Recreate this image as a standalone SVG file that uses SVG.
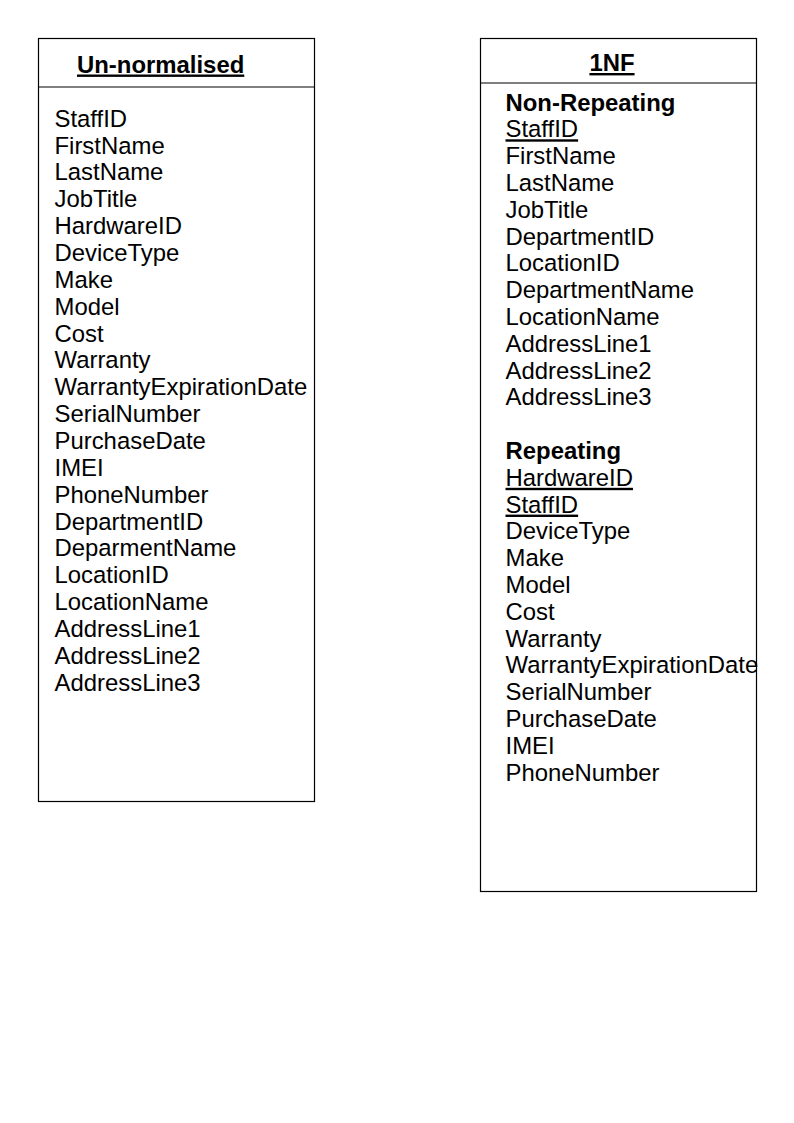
<svg xmlns="http://www.w3.org/2000/svg" width="794" height="1123" viewBox="0 0 794 1123">
<style>
.box{fill:#fff;stroke:#000;stroke-width:1.2}
.div{stroke:#000;stroke-width:1.2}
text{font-family:"Liberation Sans",Arial,sans-serif;font-size:23.9px;fill:#000}
.b{font-weight:bold}
.u{text-decoration:underline}
</style>
<rect width="794" height="1123" fill="#fff"/>
<g id="unnormalised">
<rect class="box" x="38.5" y="38.5" width="276" height="763"/>
<line class="div" x1="38.5" y1="87" x2="314.5" y2="87"/>
<text class="b u" x="77" y="72.5">Un-normalised</text>
<text x="54.5" y="126.7">
<tspan x="54.5" dy="0">StaffID</tspan>
<tspan x="54.5" dy="26.86">FirstName</tspan>
<tspan x="54.5" dy="26.86">LastName</tspan>
<tspan x="54.5" dy="26.86">JobTitle</tspan>
<tspan x="54.5" dy="26.86">HardwareID</tspan>
<tspan x="54.5" dy="26.86">DeviceType</tspan>
<tspan x="54.5" dy="26.86">Make</tspan>
<tspan x="54.5" dy="26.86">Model</tspan>
<tspan x="54.5" dy="26.86">Cost</tspan>
<tspan x="54.5" dy="26.86">Warranty</tspan>
<tspan x="54.5" dy="26.86">WarrantyExpirationDate</tspan>
<tspan x="54.5" dy="26.86">SerialNumber</tspan>
<tspan x="54.5" dy="26.86">PurchaseDate</tspan>
<tspan x="54.5" dy="26.86">IMEI</tspan>
<tspan x="54.5" dy="26.86">PhoneNumber</tspan>
<tspan x="54.5" dy="26.86">DepartmentID</tspan>
<tspan x="54.5" dy="26.86">DeparmentName</tspan>
<tspan x="54.5" dy="26.86">LocationID</tspan>
<tspan x="54.5" dy="26.86">LocationName</tspan>
<tspan x="54.5" dy="26.86">AddressLine1</tspan>
<tspan x="54.5" dy="26.86">AddressLine2</tspan>
<tspan x="54.5" dy="26.86">AddressLine3</tspan>
</text>
</g>
<g id="onenf">
<rect class="box" x="480.5" y="38.5" width="276" height="853"/>
<line class="div" x1="480.5" y1="83" x2="756.5" y2="83"/>
<text class="b u" x="612" y="71" text-anchor="middle">1NF</text>
<text class="b" x="505.5" y="110.5">Non-Repeating</text>
<text class="u" x="505.5" y="137.3">StaffID</text>
<text x="505.5" y="164.1">
<tspan x="505.5" dy="0">FirstName</tspan>
<tspan x="505.5" dy="26.81">LastName</tspan>
<tspan x="505.5" dy="26.81">JobTitle</tspan>
<tspan x="505.5" dy="26.81">DepartmentID</tspan>
<tspan x="505.5" dy="26.81">LocationID</tspan>
<tspan x="505.5" dy="26.81">DepartmentName</tspan>
<tspan x="505.5" dy="26.81">LocationName</tspan>
<tspan x="505.5" dy="26.81">AddressLine1</tspan>
<tspan x="505.5" dy="26.81">AddressLine2</tspan>
<tspan x="505.5" dy="26.81">AddressLine3</tspan>
</text>
<text class="b" x="505.5" y="459">Repeating</text>
<text class="u" x="505.5" y="485.8">HardwareID</text>
<text class="u" x="505.5" y="512.6">StaffID</text>
<text x="505.5" y="539.4">
<tspan x="505.5" dy="0">DeviceType</tspan>
<tspan x="505.5" dy="26.81">Make</tspan>
<tspan x="505.5" dy="26.81">Model</tspan>
<tspan x="505.5" dy="26.81">Cost</tspan>
<tspan x="505.5" dy="26.81">Warranty</tspan>
<tspan x="505.5" dy="26.81">WarrantyExpirationDate</tspan>
<tspan x="505.5" dy="26.81">SerialNumber</tspan>
<tspan x="505.5" dy="26.81">PurchaseDate</tspan>
<tspan x="505.5" dy="26.81">IMEI</tspan>
<tspan x="505.5" dy="26.81">PhoneNumber</tspan>
</text>
</g>
<g id="connectors"></g>
</svg>
